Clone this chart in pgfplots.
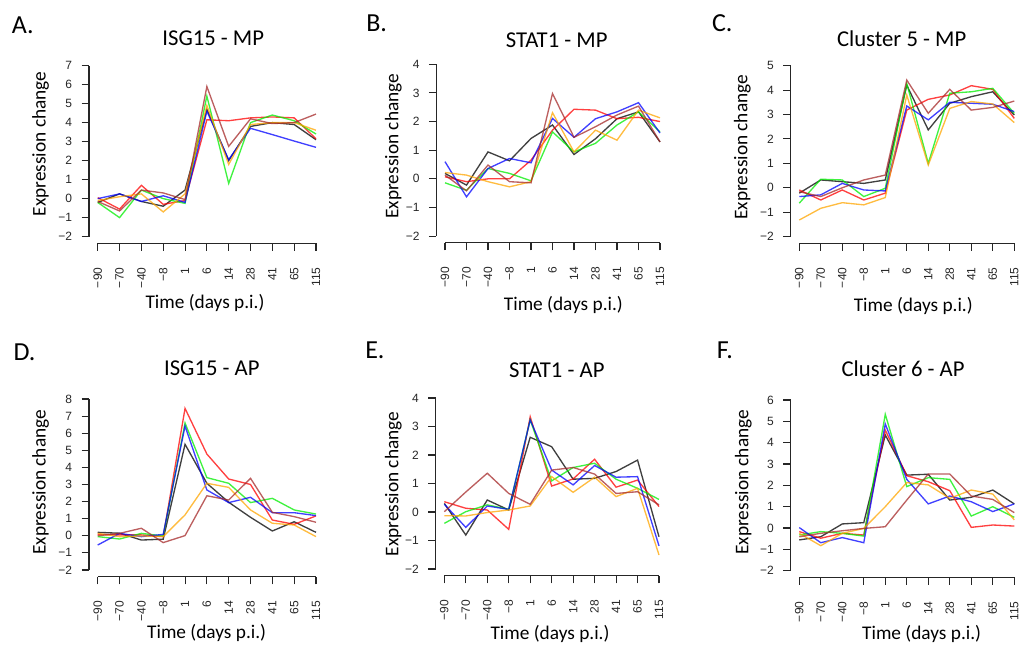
\documentclass[border=0pt]{standalone}
\usepackage{pgfplots}
\usepackage{pgfplotstable}
\pgfplotsset{compat=1.18}
\usepackage{fontspec}
\setmainfont{Carlito}
\newfontfamily\tickfont{Liberation Sans}

\definecolor{rblack}{HTML}{000000}
\definecolor{rred}{HTML}{FF0000}
\definecolor{rgreen}{HTML}{00EE00}
\definecolor{rblue}{HTML}{0000FF}
\definecolor{rorange}{HTML}{FFA500}
\definecolor{rbrown}{HTML}{A52A2A}

\pgfplotstableread{
x bk rd gr bl or br
0 -0.2 0.05 -0.2 0.0 -0.1 -0.15
1 0.25 -0.55 -1.0 0.25 0.1 -0.65
2 -0.15 0.7 0.45 -0.15 0.25 0.45
3 -0.4 -0.3 0.0 0.15 -0.7 0.3
4 0.45 -0.1 -0.25 -0.2 0.25 -0.05
5 4.7 4.15 5.4 4.6 4.9 5.9
6 2.0 4.1 0.8 2.05 1.8 2.75
7 3.8 4.25 4.0 3.7 3.9 4.2
8 4.0 4.3 4.4 3.37 4.0 3.95
9 3.9 4.25 4.1 3.03 4.0 4.0
10 3.1 3.15 3.4 2.7 3.6 4.45
}\tabA

\pgfplotstableread{
x bk rd gr bl or br
0 0.19 0.07 -0.14 0.6 0.22 0.13
1 -0.22 -0.1 -0.4 -0.63 0.13 -0.42
2 0.94 0.0 0.36 0.36 -0.1 0.48
3 0.63 0.0 0.19 0.71 -0.28 -0.1
4 1.41 0.65 -0.07 0.56 -0.1 -0.14
5 1.88 1.7 1.64 2.11 2.31 2.98
6 0.85 2.43 0.94 1.45 0.94 1.45
7 1.4 2.4 1.24 2.1 1.7 1.82
8 2.1 2.1 1.88 2.34 1.35 2.23
9 2.34 2.15 2.34 2.66 2.4 2.54
10 1.29 2.0 1.64 1.6 2.13 1.29
}\tabB

\pgfplotstableread{
x bk rd gr bl or br
0 -0.22 -0.09 -0.63 -0.36 -1.32 -0.16
1 0.32 -0.5 0.35 -0.29 -0.84 -0.36
2 0.25 -0.09 0.32 0.18 -0.61 0.0
3 0.18 -0.5 -0.36 -0.09 -0.7 0.32
4 0.32 -0.22 -0.02 -0.13 -0.4 0.52
5 4.2 3.18 4.27 3.35 3.8 4.41
6 2.37 3.62 1.0 2.78 0.93 3.05
7 3.46 3.8 3.87 3.5 3.25 4.03
8 3.73 4.18 3.93 3.46 3.53 3.18
9 3.93 4.03 4.07 3.42 3.43 3.29
10 2.98 2.84 3.05 3.12 2.67 3.55
}\tabC

\pgfplotstableread{
x bk rd gr bl or br
0 0.2 0.08 -0.05 -0.54 0.14 0.0
1 0.15 0.05 -0.19 0.14 -0.05 0.14
2 -0.25 0.05 0.14 -0.05 -0.01 0.44
3 -0.2 -0.05 -0.01 0.08 -0.05 -0.4
4 5.35 7.45 6.6 6.42 1.22 0.01
5 3.07 4.78 3.4 2.68 3.07 2.34
6 1.96 3.32 3.07 1.94 2.83 2.09
7 1.08 3.0 1.94 2.25 1.51 3.36
8 0.28 0.92 2.19 1.35 0.73 1.37
9 0.82 0.67 1.51 1.35 0.63 1.12
10 0.2 1.16 1.27 1.18 -0.05 0.79
}\tabD

\pgfplotstableread{
x bk rd gr bl or br
0 0.3 0.36 -0.4 0.27 -0.13 0.01
1 -0.81 0.13 0.01 -0.54 -0.14 0.7
2 0.42 0.07 0.25 0.21 -0.02 1.36
3 0.07 -0.61 0.09 0.09 0.07 0.65
4 2.62 3.34 3.23 3.23 0.21 0.27
5 2.29 0.91 1.09 1.47 1.24 1.47
6 1.15 1.16 1.56 0.95 0.69 1.56
7 1.18 1.85 1.71 1.63 1.22 1.33
8 1.42 0.87 1.15 1.22 0.54 0.65
9 1.82 1.12 0.83 1.24 0.83 0.71
10 -0.87 0.19 0.44 -1.19 -1.51 0.25
}\tabE

\pgfplotstableread{
x bk rd gr bl or br
0 -0.56 -0.17 -0.33 0.02 -0.25 -0.41
1 -0.41 -0.48 -0.17 -0.69 -0.83 -0.25
2 0.19 -0.25 -0.25 -0.45 -0.25 -0.13
3 0.25 -0.33 -0.38 -0.69 -0.02 -0.02
4 4.36 4.59 5.33 4.88 1.0 0.06
5 2.48 2.45 1.94 2.28 2.13 1.31
6 2.52 2.17 2.36 1.13 2.02 2.53
7 1.31 1.75 2.28 1.5 1.39 2.53
8 1.44 0.03 0.56 1.23 1.78 1.5
9 1.78 0.14 1.0 0.77 1.59 1.34
10 1.13 0.09 0.5 1.13 0.38 0.72
}\tabF

\newcommand{\sixplots}[1]{%
  \addplot[rblack] table[x=x,y=bk]{#1};
  \addplot[rred] table[x=x,y=rd]{#1};
  \addplot[rgreen] table[x=x,y=gr]{#1};
  \addplot[rblue] table[x=x,y=bl]{#1};
  \addplot[rorange] table[x=x,y=or]{#1};
  \addplot[rbrown] table[x=x,y=br]{#1};
}

\pgfplotsset{
  rstyle/.style={
    scale only axis, clip=false,
    axis x line*=bottom, axis y line*=left,
    axis line style={draw=none},
    tick align=outside, major tick length=5.6pt,
    tick style={black!85, line width=0.8pt},
    xmin=-0.4, xmax=10.4,
    xtick={0,1,2,3,4,5,6,7,8,9,10},
    xticklabels={−90,−70,−40,−8,1,6,14,28,41,65,115},
    xticklabel style={rotate=90, anchor=east, font=\tickfont\fontsize{9}{10}\selectfont, text=black!85},
    yticklabel style={font=\tickfont\fontsize{9}{10}\selectfont, text=black!85},
    xticklabel shift=9pt,
    yticklabel shift=3.5pt,
    title style={font=\fontsize{17}{20}\selectfont, anchor=base, inner sep=0pt},
    xlabel style={font=\fontsize{14.5}{17}\selectfont, anchor=base, inner sep=0pt},
    ylabel style={font=\fontsize{14.5}{17}\selectfont, anchor=center, inner sep=0pt},
    every axis plot/.append style={line width=1pt, opacity=0.75, mark=none},
    xlabel={Time (days p.i.)},
    ylabel={Expression change},
  }
}

\begin{document}
\begin{tikzpicture}
\useasboundingbox (0,0) rectangle (765pt,483pt);
\clip (0,0) rectangle (765pt,483pt);

\node[anchor=base west, inner sep=0pt, font=\fontsize{19.5}{22}\selectfont] at (8.8pt,458.0pt) {A.};
\node[anchor=base west, inner sep=0pt, font=\fontsize{19.5}{22}\selectfont] at (274.5pt,459.2pt) {B.};
\node[anchor=base west, inner sep=0pt, font=\fontsize{19.5}{22}\selectfont] at (533.8pt,459.2pt) {C.};
\node[anchor=base west, inner sep=0pt, font=\fontsize{19.5}{22}\selectfont] at (10.0pt,213.0pt) {D.};
\node[anchor=base west, inner sep=0pt, font=\fontsize{19.5}{22}\selectfont] at (273.75pt,214.3pt) {E.};
\node[anchor=base west, inner sep=0pt, font=\fontsize{19.5}{22}\selectfont] at (537.5pt,214.3pt) {F.};

% A
\begin{axis}[rstyle, at={(66.75pt,300.4pt)}, anchor=south west,
  width=176.8pt, height=138.5pt,
  ymin=-2.36, ymax=7.36, ytick={-2,...,7},
  yticklabels={−2,−1,0,1,2,3,4,5,6,7},
  title={ISG15 - MP},
  title style={at={(axis description cs:0.527,1.030)}},
  xlabel style={at={(axis description cs:0.492,-0.351)}},
  ylabel style={at={(axis description cs:-0.205,0.539)}}]
\draw[black!85, line width=0.8pt] (axis cs:0,-2.36) -- (axis cs:10,-2.36);
\draw[black!85, line width=0.8pt] (axis cs:-0.4,-2) -- (axis cs:-0.4,7);
\sixplots{\tabA}
\end{axis}

% B
\begin{axis}[rstyle, at={(327.3pt,300.8pt)}, anchor=south west,
  width=174.15pt, height=139.1pt,
  ymin=-2.24, ymax=4.24, ytick={-2,...,4},
  yticklabels={−2,−1,0,1,2,3,4},
  title={STAT1 - MP},
  title style={at={(axis description cs:0.518,1.013)}},
  xlabel style={at={(axis description cs:0.547,-0.362)}},
  ylabel style={at={(axis description cs:-0.186,0.522)}}]
\draw[black!85, line width=0.8pt] (axis cs:0,-2.24) -- (axis cs:10,-2.24);
\draw[black!85, line width=0.8pt] (axis cs:-0.4,-2) -- (axis cs:-0.4,4);
\sixplots{\tabB}
\end{axis}

% C
\begin{axis}[rstyle, at={(593.0pt,300.4pt)}, anchor=south west,
  width=174.15pt, height=138.5pt,
  ymin=-2.28, ymax=5.28, ytick={-2,...,5},
  yticklabels={−2,−1,0,1,2,3,4,5},
  title={Cluster 5 - MP},
  title style={at={(axis description cs:0.478,1.021)}},
  xlabel style={at={(axis description cs:0.528,-0.369)}},
  ylabel style={at={(axis description cs:-0.208,0.521)}}]
\draw[black!85, line width=0.8pt] (axis cs:0,-2.28) -- (axis cs:10,-2.28);
\draw[black!85, line width=0.8pt] (axis cs:-0.4,-2) -- (axis cs:-0.4,5);
\sixplots{\tabC}
\end{axis}

% D
\begin{axis}[rstyle, at={(66.75pt,50.4pt)}, anchor=south west,
  width=176.8pt, height=138.5pt,
  ymin=-2.4, ymax=8.4, ytick={-2,...,8},
  yticklabels={−2,−1,0,1,2,3,4,5,6,7,8},
  title={ISG15 - AP},
  title style={at={(axis description cs:0.521,1.048)}},
  xlabel style={at={(axis description cs:0.499,-0.333)}},
  ylabel style={at={(axis description cs:-0.205,0.512)}}]
\draw[black!85, line width=0.8pt] (axis cs:0,-2.4) -- (axis cs:10,-2.4);
\draw[black!85, line width=0.8pt] (axis cs:-0.4,-2) -- (axis cs:-0.4,8);
\sixplots{\tabD}
\end{axis}

% E
\begin{axis}[rstyle, at={(326.8pt,51.15pt)}, anchor=south west,
  width=173.9pt, height=138.5pt,
  ymin=-2.24, ymax=4.24, ytick={-2,...,4},
  yticklabels={−2,−1,0,1,2,3,4},
  title={STAT1 - AP},
  title style={at={(axis description cs:0.522,1.032)}},
  xlabel style={at={(axis description cs:0.493,-0.344)}},
  ylabel style={at={(axis description cs:-0.183,0.497)}}]
\draw[black!85, line width=0.8pt] (axis cs:0,-2.24) -- (axis cs:10,-2.24);
\draw[black!85, line width=0.8pt] (axis cs:-0.4,-2) -- (axis cs:-0.4,4);
\sixplots{\tabE}
\end{axis}

% F
\begin{axis}[rstyle, at={(593.0pt,49.9pt)}, anchor=south west,
  width=174.15pt, height=138.2pt,
  ymin=-2.32, ymax=6.32, ytick={-2,...,6},
  yticklabels={−2,−1,0,1,2,3,4,5,6},
  title={Cluster 6 - AP},
  title style={at={(axis description cs:0.484,1.045)}},
  xlabel style={at={(axis description cs:0.564,-0.335)}},
  ylabel style={at={(axis description cs:-0.204,0.517)}}]
\draw[black!85, line width=0.8pt] (axis cs:0,-2.32) -- (axis cs:10,-2.32);
\draw[black!85, line width=0.8pt] (axis cs:-0.4,-2) -- (axis cs:-0.4,6);
\sixplots{\tabF}
\end{axis}
\end{tikzpicture}
\end{document}
